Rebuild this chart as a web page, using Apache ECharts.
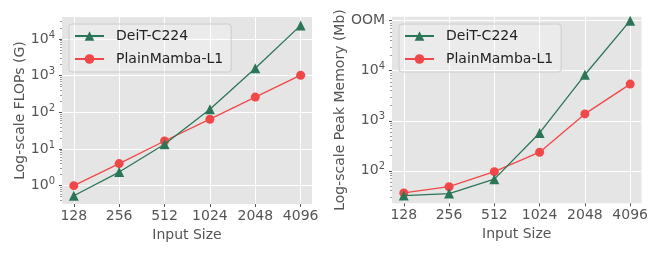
<!DOCTYPE html>
<html><head><meta charset="utf-8">
<script src="https://cdn.jsdelivr.net/npm/echarts@6/dist/echarts.min.js"></script>
<style>html,body{margin:0;padding:0;background:#fff}#c{width:664px;height:256px}</style>
</head><body><div id="c"></div>
<script>
const inputSizes = [128, 256, 512, 1024, 2048, 4096];
const flopsDeiT = [0.53, 2.35, 13.5, 122, 1590, 23500];
const flopsMamba = [1.0, 4.0, 16.5, 65, 260, 1030];
const memDeiT = [32, 35, 68, 570, 8300, 100000];
const memMamba = [36, 48, 96, 235, 1370, 5400];
const flopsTicks = [1, 10, 100, 1000, 10000];
const memTicks = [100, 1000, 10000, 100000];
const names = ['DeiT-C224', 'PlainMamba-L1'];
const colors = ['#2b7657', '#f04848'];

function minors(lo, hi) {
  const out = [];
  for (let e = -2; e <= 6; e++) for (let m = 2; m <= 9; m++) {
    const v = m * Math.pow(10, e);
    if (v > lo && v < hi) out.push(v);
  }
  return out;
}
const FONT = 'DejaVu Sans';
const gray = '#555555';
const labelRich = { sup: { fontSize: 10, fontFamily: FONT, color: gray, verticalAlign: 'bottom', padding: [0, 0, 8, 0] } };

function xAxis(gi) {
  return {
    type: 'log', logBase: 2, gridIndex: gi, min: 128 / Math.pow(2, 0.26), max: 4096 * Math.pow(2, 0.25),
    name: 'Input Size', nameLocation: 'middle', nameGap: 19,
    nameTextStyle: { fontFamily: FONT, fontSize: 14, color: gray },
    axisLine: { show: false },
    axisTick: { show: true, customValues: inputSizes, length: 3, lineStyle: { color: gray } },
    axisLabel: { customValues: inputSizes, fontFamily: FONT, fontSize: 14, color: gray, margin: 5, formatter: v => String(Math.round(v)) },
    splitLine: { show: true, lineStyle: { color: '#ffffff', width: 1 } },
    minorTick: { show: false }
  };
}
function yMajor(gi, lo, hi, ticks, name, gap, oom) {
  return {
    type: 'log', gridIndex: gi, min: lo, max: hi, position: 'left',
    name: name, nameLocation: 'middle', nameGap: gap,
    nameTextStyle: { fontFamily: FONT, fontSize: 14, color: gray },
    axisLine: { show: false },
    axisTick: { show: true, customValues: ticks, length: 3, lineStyle: { color: gray } },
    axisLabel: {
      customValues: ticks, fontFamily: FONT, fontSize: 14, color: gray, margin: 7,
      formatter: v => (oom && Math.abs(v - 100000) < 1) ? 'OOM' : '10{sup|' + Math.round(Math.log10(v)) + '}',
      rich: labelRich
    },
    splitLine: { show: true, lineStyle: { color: '#ffffff', width: 1 } }
  };
}
function yMinor(gi, lo, hi) {
  return {
    type: 'log', gridIndex: gi, min: lo, max: hi, position: 'left', offset: 0,
    axisLine: { show: false },
    axisTick: { show: true, customValues: minors(lo, hi), length: 2, lineStyle: { color: '#9a9a9a', width: 1 } },
    axisLabel: { show: false },
    splitLine: { show: false }
  };
}
function series(name, i, xi, yi, vals) {
  return {
    type: 'line', name: name, xAxisIndex: xi, yAxisIndex: yi,
    data: inputSizes.map((s, k) => [s, vals[k]]),
    symbol: i === 0 ? 'triangle' : 'circle', symbolSize: i === 0 ? 10 : 9,
    itemStyle: { color: colors[i] }, lineStyle: { color: colors[i], width: 1.3 },
    animation: false, z: i === 0 ? 3 : 2
  };
}
function legend(left) {
  return {
    data: names, orient: 'vertical', left: left, top: 24, itemWidth: 29, itemHeight: 12, itemGap: 9,
    padding: [5, 8, 6, 5], backgroundColor: 'rgba(255,255,255,0.25)', borderColor: '#cccccc', borderWidth: 1, borderRadius: 3,
    textStyle: { fontFamily: FONT, fontSize: 14, color: '#222', padding: [0, 0, 0, 7] }, selectedMode: false
  };
}
const fLo = Math.pow(10, -0.5), fHi = Math.pow(10, 4.6);
const mLo = Math.pow(10, 1.35), mHi = Math.pow(10, 5.08);
const chart = echarts.init(document.getElementById('c'), null, { renderer: 'canvas' });
chart.setOption({
  animation: false,
  grid: [
    { left: 62, right: 352, top: 17, bottom: 52, show: true, backgroundColor: '#e5e5e5', borderWidth: 0 },
    { left: 392, right: 22.5, top: 16.7, bottom: 52.7, show: true, backgroundColor: '#e5e5e5', borderWidth: 0 }
  ],
  legend: [legend(69), legend(399)],
  xAxis: [xAxis(0), xAxis(1)],
  yAxis: [
    yMajor(0, fLo, fHi, flopsTicks, 'Log-scale FLOPs (G)', 33, false),
    yMinor(0, fLo, fHi),
    yMajor(1, mLo, mHi, memTicks, 'Log-scale Peak Memory (Mb)', 40, true),
    yMinor(1, mLo, mHi)
  ],
  series: [
    series(names[0], 0, 0, 0, flopsDeiT),
    series(names[1], 1, 0, 0, flopsMamba),
    series(names[0], 0, 1, 2, memDeiT),
    series(names[1], 1, 1, 2, memMamba)
  ]
});
</script></body></html>
